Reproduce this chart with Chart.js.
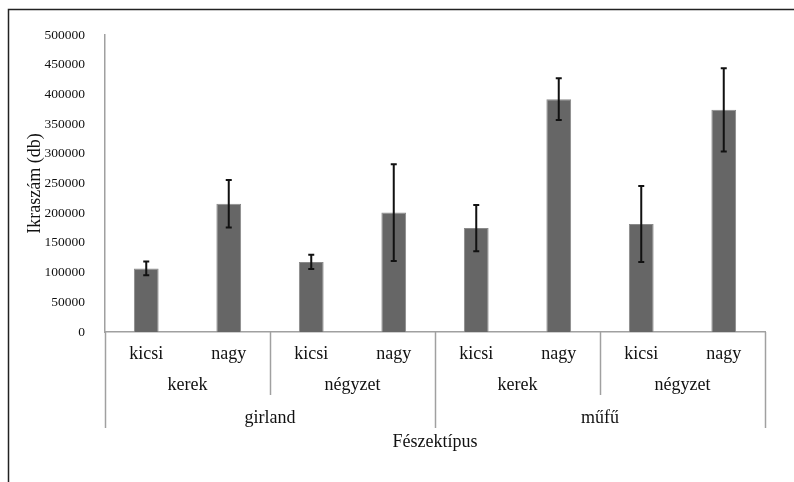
<!DOCTYPE html>
<html>
<head>
<meta charset="utf-8">
<script src="https://cdn.jsdelivr.net/npm/chart.js@4"></script>
<style>
  html, body { margin: 0; padding: 0; background: #fff; }
  #wrap { width: 794px; height: 482px; position: relative; }
</style>
</head>
<body>
<div id="wrap"><canvas id="c" width="794" height="482"></canvas></div>
<script>
// Nest size (innermost category level), shape (middle level), nest type (outer level)
const sizes = ['kicsi', 'nagy', 'kicsi', 'nagy', 'kicsi', 'nagy', 'kicsi', 'nagy'];
const shapes = ['kerek', 'négyzet', 'kerek', 'négyzet'];
const nestTypes = ['girland', 'műfű'];

// Mean egg count per nest and its error (± value)
const means = [107000, 216000, 118000, 201000, 175000, 392000, 182000, 374000];
const errors = [11500, 40000, 12000, 81500, 39000, 35000, 64000, 70000];

// Y axis range
const yMin = 0;
const yMax = 500000;
const yStep = 50000;

const yTitle = 'Ikraszám (db)';
const xTitle = 'Fészektípus';

const SERIF = '"Liberation Serif", "Times New Roman", serif';
const TEXT = '#111';
const AXIS = '#a0a0a0';

const decorations = {
  id: 'decorations',
  afterDatasetsDraw(chart) {
    const { ctx, scales: { y } } = chart;
    const meta = chart.getDatasetMeta(0);
    ctx.save();
    ctx.strokeStyle = '#111';
    ctx.lineWidth = 2;
    meta.data.forEach((bar, i) => {
      const top = y.getPixelForValue(means[i] + errors[i]);
      const bot = y.getPixelForValue(means[i] - errors[i]);
      ctx.beginPath();
      ctx.moveTo(bar.x, top);
      ctx.lineTo(bar.x, bot);
      ctx.moveTo(bar.x - 3, top);
      ctx.lineTo(bar.x + 3, top);
      ctx.moveTo(bar.x - 3, bot);
      ctx.lineTo(bar.x + 3, bot);
      ctx.stroke();
    });
    ctx.restore();
  },
  afterDraw(chart) {
    const { ctx, chartArea, scales: { x } } = chart;
    const px = i => x.getPixelForValue(i);
    const step = px(1) - px(0);
    const base = chartArea.bottom;
    ctx.save();

    // Dividers of the nested category axis
    ctx.strokeStyle = AXIS;
    ctx.lineWidth = 1.5;
    for (let k = 0; k <= sizes.length; k += 2) {
      const bx = Math.round(px(0) - step / 2 + k * step) + 0.5;
      const end = (k % 4 === 0) ? 428 : 395;
      ctx.beginPath();
      ctx.moveTo(bx, base);
      ctx.lineTo(bx, end);
      ctx.stroke();
    }

    ctx.fillStyle = TEXT;
    ctx.textAlign = 'center';
    ctx.textBaseline = 'middle';
    ctx.font = '18px ' + SERIF;
    sizes.forEach((s, i) => ctx.fillText(s, px(i), 354));
    shapes.forEach((s, g) => ctx.fillText(s, (px(2 * g) + px(2 * g + 1)) / 2, 385));
    nestTypes.forEach((s, g) => ctx.fillText(s, (px(4 * g) + px(4 * g + 3)) / 2, 418));
    ctx.fillText(xTitle, (chartArea.left + chartArea.right) / 2, 442);

    // Rotated y title
    ctx.save();
    ctx.translate(35, (chartArea.top + chartArea.bottom) / 2);
    ctx.rotate(-Math.PI / 2);
    ctx.fillText(yTitle, 0, 0);
    ctx.restore();

    // Outer frame (left and top edges)
    ctx.strokeStyle = '#222';
    ctx.lineWidth = 1.5;
    ctx.beginPath();
    ctx.moveTo(8.5, 482);
    ctx.lineTo(8.5, 9.5);
    ctx.lineTo(794, 9.5);
    ctx.stroke();
    ctx.restore();
  }
};

new Chart(document.getElementById('c'), {
  type: 'bar',
  data: {
    labels: sizes,
    datasets: [{
      data: means,
      backgroundColor: '#666666',
      borderColor: '#8a8a8a',
      borderWidth: 1,
      barPercentage: 0.3,
      categoryPercentage: 1.0
    }]
  },
  options: {
    responsive: false,
    animation: false,
    devicePixelRatio: 1,
    layout: { padding: { left: 0, top: 35, right: 29, bottom: 0 } },
    plugins: { legend: { display: false }, tooltip: { enabled: false } },
    scales: {
      x: {
        grid: { display: false },
        border: { display: true, color: AXIS, width: 1.5 },
        ticks: { display: false },
        afterFit: s => { s.height = 150; }
      },
      y: {
        min: yMin,
        max: yMax,
        grid: { display: false },
        border: { display: true, color: AXIS, width: 1.5 },
        ticks: {
          stepSize: yStep,
          padding: 12,
          color: TEXT,
          font: { family: SERIF, size: 13.5 },
          callback: v => String(v)
        },
        afterFit: s => { s.width = 105; }
      }
    }
  },
  plugins: [decorations]
});
</script>
</body>
</html>
